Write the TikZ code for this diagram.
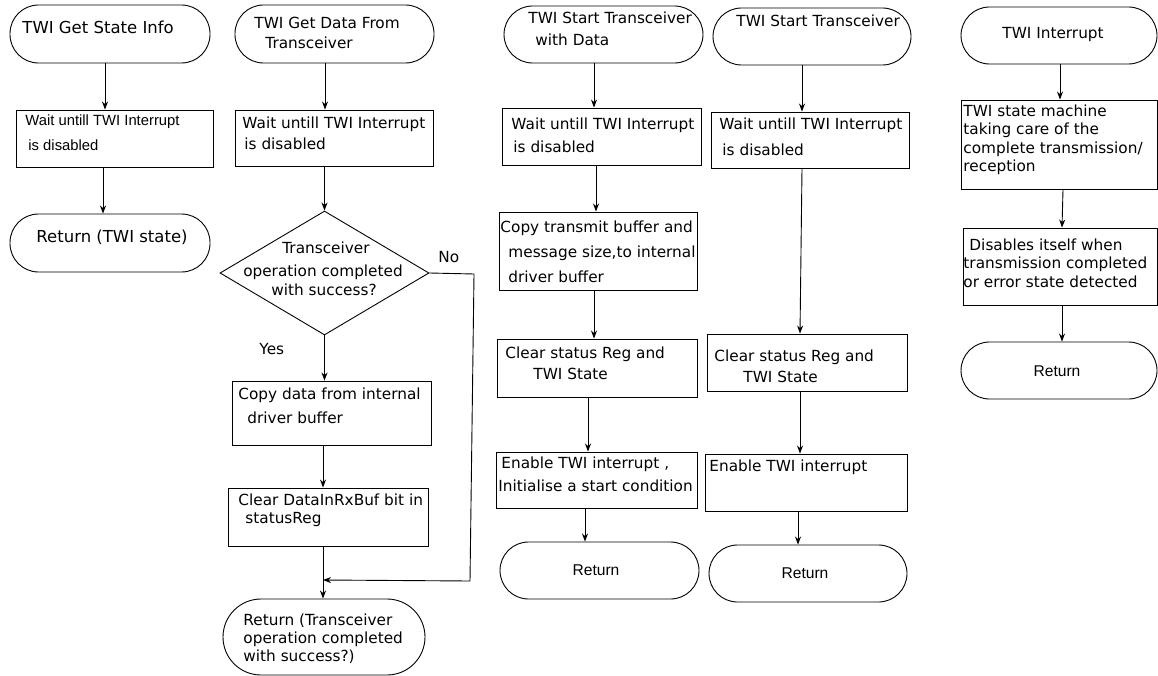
\documentclass[tikz,border=0pt]{standalone}
\usepackage{fontspec}
\setmainfont{DejaVu Sans}
\newfontfamily\arialfont{Liberation Sans}
\usetikzlibrary{shapes.geometric,arrows.meta}

% font sizes (1pt = one unit of the drawing)
\newcommand{\fsmain}{\fontsize{15.3}{18}\selectfont}
\newcommand{\fsbig}{\fontsize{16.5}{19}\selectfont}
\newcommand{\fsarial}{\arialfont\fontsize{14.8}{18}\selectfont}
\newcommand{\fsret}{\arialfont\fontsize{15.6}{18}\selectfont}

\begin{document}
\begin{tikzpicture}[x=1pt,y=-1pt,
  line width=0.9pt,
  proc/.style={draw, rectangle, inner sep=0pt},
  term/.style={draw, rectangle, inner sep=0pt, rounded corners=28.5pt},
  decide/.style={draw, diamond, inner sep=0pt},
  arr/.style={-{Stealth[length=8pt,width=6pt,inset=2.5pt]}},
  txt/.style={anchor=base west, inner sep=0pt, font=\fsmain},
  ctxt/.style={anchor=base, inner sep=0pt, font=\fsmain},
  rtxt/.style={anchor=base, inner sep=0pt, font=\fsret}]

\useasboundingbox (0,0) rectangle (1158,676);

% ---------- TWI Get State Info ----------
\node[term, minimum width=200, minimum height=58] (s1) at (110,34) {};
\node[proc, minimum width=197, minimum height=57] (w1) at (114.5,138.5) {};
\node[term, minimum width=200, minimum height=58] (r1) at (110,243) {};
\node[txt, font=\fsbig] (s1t) at (22,34) {TWI Get State Info};
\node[txt, font=\fsarial] (w1a) at (25,126) {Wait untill TWI Interrupt};
\node[txt, font=\fsarial] (w1b) at (28,151) {is disabled};
\node[txt, font=\fsbig] (r1t) at (36,243) {Return (TWI state)};
\draw[arr] ([xshift=-5]s1.south) -- ([xshift=-9.5]w1.north);
\draw[arr] ([xshift=-11.5]w1.south) -- ([xshift=-7]r1.north);

% ---------- TWI Get Data From Transceiver ----------
\node[term, minimum width=199, minimum height=58] (s2) at (334.5,34) {};
\node[proc, minimum width=198, minimum height=56] (w2) at (334,138) {};
\node[decide, minimum width=209, minimum height=124] (d2) at (324.5,273) {};
\node[proc, minimum width=199, minimum height=64] (c2) at (331.5,413) {};
\node[proc, minimum width=200, minimum height=58] (k2) at (328,517) {};
\node[term, minimum width=202, minimum height=76, rounded corners=38pt] (r2) at (324,637) {};
\coordinate (join) at (323,580);
\node[txt] (s2a) at (254,29) {TWI Get Data From};
\node[txt] (s2b) at (265,49) {Transceiver};
\node[txt] (w2a) at (242,129) {Wait untill TWI Interrupt};
\node[txt] (w2b) at (244,150) {is disabled};
\node[ctxt] (d2a) at (326,254) {Transceiver};
\node[ctxt] (d2b) at (323,276) {operation completed};
\node[ctxt] (d2c) at (324,295) {with success?};
\node[txt] (no) at (438,262) {No};
\node[txt] (yes) at (259,354) {Yes};
\node[txt] (c2a) at (238,399) {Copy data from internal};
\node[txt] (c2b) at (247,423) {driver buffer};
\node[txt] (k2a) at (238,505) {Clear DataInRxBuf bit in};
\node[txt] (k2b) at (245,523) {statusReg};
\node[txt] (r2a) at (243,625) {Return (Transceiver};
\node[txt] (r2b) at (243,643) {operation completed};
\node[txt] (r2c) at (243,661) {with success?)};
\draw[arr] ([xshift=-9.5]s2.south) -- ([xshift=-9]w2.north);
\draw[arr] ([xshift=-9.5]w2.south) -- (d2.north);
\draw[arr] (d2.south) -- ([xshift=-7]c2.north);
\draw[arr] ([xshift=-8.5]c2.south) -- ([xshift=-5]k2.north);
\draw[arr] ([xshift=-5]k2.south) -- ([xshift=-1]r2.north);
\draw[arr] (d2.east) -- (474,274) -- (470,581) -- (join);

% ---------- TWI Start Transceiver with Data ----------
\node[term, minimum width=199, minimum height=57] (s3) at (603.5,34.5) {};
\node[proc, minimum width=199, minimum height=57] (w3) at (601.5,136.5) {};
\node[proc, minimum width=198, minimum height=78] (c3) at (598,251) {};
\node[proc, minimum width=200, minimum height=58] (k3) at (597,368) {};
\node[proc, minimum width=201, minimum height=56] (e3) at (596.5,480) {};
\node[term, minimum width=199, minimum height=57] (r3) at (599.5,570.5) {};
\node[txt] (s3a) at (528,24) {TWI Start Transceiver};
\node[txt] (s3b) at (535,46) {with Data};
\node[txt] (w3a) at (511,130) {Wait untill TWI Interrupt};
\node[txt] (w3b) at (513,153) {is disabled};
\node[txt] (c3a) at (500,233) {Copy transmit buffer and};
\node[txt] (c3b) at (508,258) {message size,to internal};
\node[txt] (c3c) at (508,282) {driver buffer};
\node[txt] (k3a) at (505,358) {Clear status Reg and};
\node[txt] (k3b) at (533,379) {TWI State};
\node[txt] (e3a) at (501,468) {Enable TWI interrupt ,};
\node[txt] (e3b) at (498,491) {Initialise a start condition};
\node[rtxt] (r3t) at (596,575) {Return};
\draw[arr] ([xshift=-9.5]s3.south) -- ([xshift=-7.5]w3.north);
\draw[arr] ([xshift=-5.5]w3.south) -- ([xshift=-2]c3.north);
\draw[arr] ([xshift=-4]c3.south) -- ([xshift=-3]k3.north);
\draw[arr] ([xshift=-9]k3.south) -- ([xshift=-8.5]e3.north);
\draw[arr] ([xshift=-11.5]e3.south) -- ([xshift=-14.5]r3.north);

% ---------- TWI Start Transceiver ----------
\node[term, minimum width=198, minimum height=57] (s4) at (812,36.5) {};
\node[proc, minimum width=198, minimum height=56] (w4) at (810,140) {};
\node[proc, minimum width=200, minimum height=57] (k4) at (807,362.5) {};
\node[proc, minimum width=202, minimum height=57] (e4) at (806,482.5) {};
\node[term, minimum width=198, minimum height=57] (r4) at (808,573.5) {};
\node[txt] (s4a) at (736,27) {TWI Start Transceiver};
\node[txt] (w4a) at (719,130) {Wait untill TWI Interrupt};
\node[txt] (w4b) at (722,156) {is disabled};
\node[txt] (k4a) at (714,361) {Clear status Reg and};
\node[txt] (k4b) at (743,382) {TWI State};
\node[txt] (e4a) at (709,471) {Enable TWI interrupt};
\node[rtxt] (r4t) at (805,578) {Return};
\draw[arr] ([xshift=-10]s4.south) -- ([xshift=-8]w4.north);
\draw[arr] ([xshift=-8]w4.south) -- ([xshift=-7]k4.north);
\draw[arr] ([xshift=-7]k4.south) -- ([xshift=-6]e4.north);
\draw[arr] ([xshift=-8]e4.south) -- ([xshift=-10]r4.north);

% ---------- TWI Interrupt ----------
\node[term, minimum width=196, minimum height=57] (s5) at (1059,35.5) {};
\node[proc, minimum width=196, minimum height=89] (w5) at (1059,144.5) {};
\node[proc, minimum width=194, minimum height=77] (d5) at (1060,266.5) {};
\node[term, minimum width=196, minimum height=57] (r5) at (1059,370.5) {};
\node[txt] (s5a) at (1002,39) {TWI Interrupt};
\node[txt] (w5a) at (963,117) {TWI state machine};
\node[txt] (w5b) at (963,135) {taking care of the};
\node[txt] (w5c) at (963,154) {complete transmission/};
\node[txt] (w5d) at (963,172) {reception};
\node[txt] (d5a) at (969,251) {Disables itself when};
\node[txt] (d5b) at (963,269) {transmission completed};
\node[txt] (d5c) at (963,287) {or error state detected};
\node[rtxt] (r5t) at (1057,376) {Return};
\draw[arr] ([xshift=1]s5.south) -- ([xshift=1]w5.north);
\draw[arr] ([xshift=4]w5.south) -- ([xshift=2]d5.north);
\draw[arr] ([xshift=2]d5.south) -- ([xshift=3]r5.north);

\end{tikzpicture}
\end{document}
